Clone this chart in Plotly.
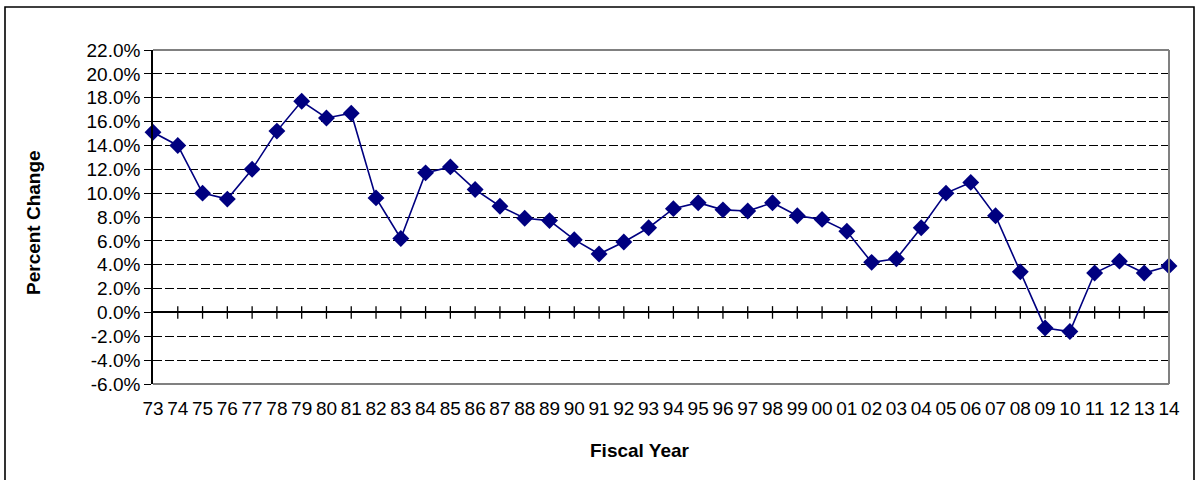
import plotly.graph_objects as go

# Fiscal years (two-digit labels) and annual percent change
years = ["73", "74", "75", "76", "77", "78", "79", "80", "81", "82", "83", "84",
         "85", "86", "87", "88", "89", "90", "91", "92", "93", "94", "95", "96",
         "97", "98", "99", "00", "01", "02", "03", "04", "05", "06", "07", "08",
         "09", "10", "11", "12", "13", "14"]
pct_change = [15.1, 14.0, 10.0, 9.5, 12.0, 15.2, 17.7, 16.3, 16.7, 9.6, 6.2, 11.7,
              12.2, 10.3, 8.9, 7.9, 7.7, 6.1, 4.9, 5.9, 7.1, 8.7, 9.2, 8.6,
              8.5, 9.2, 8.1, 7.8, 6.8, 4.2, 4.5, 7.1, 10.0, 10.9, 8.1, 3.4,
              -1.3, -1.6, 3.3, 4.3, 3.3, 3.9]
y_ticks = [-6, -4, -2, 0, 2, 4, 6, 8, 10, 12, 14, 16, 18, 20, 22]

FONT = "Liberation Sans, Arial, sans-serif"
NAVY = "#000080"
W, H = 1196, 480
L, R, T, B = 153, 27, 50, 96
pw, ph = W - L - R, H - T - B

idx = list(range(len(years)))

fig = go.Figure()

# crossing tick marks on the zero axis line
fig.add_trace(go.Scatter(
    x=idx[1:], y=[0] * (len(idx) - 1), mode="markers",
    marker=dict(symbol="line-ns", size=9, line=dict(color="black", width=1.3)),
    hoverinfo="skip", showlegend=False, cliponaxis=False,
))

fig.add_trace(go.Scatter(
    x=idx, y=pct_change, mode="lines+markers",
    line=dict(color=NAVY, width=1.6),
    marker=dict(symbol="diamond", size=13, color=NAVY),
    showlegend=False, cliponaxis=False,
))

fig.update_layout(
    width=W, height=H,
    margin=dict(l=L, r=R, t=T, b=B, pad=0),
    paper_bgcolor="white", plot_bgcolor="white",
    font=dict(family=FONT, size=19, color="black"),
    xaxis=dict(
        range=[0, len(years) - 1], tickmode="array", tickvals=idx, ticktext=years,
        showgrid=False, zeroline=False, showline=False, ticks="",
        ticklabelstandoff=11,
        tickfont=dict(size=19), fixedrange=True,
    ),
    yaxis=dict(
        range=[-6, 22], tickmode="array", tickvals=y_ticks,
        ticktext=[f"{v:.1f}%" for v in y_ticks],
        showgrid=True, gridcolor="black", gridwidth=1.3, griddash="9px,3px",
        zeroline=True, zerolinecolor="black", zerolinewidth=1.5,
        showline=True, linecolor="black", linewidth=1.6,
        ticks="outside", ticklen=7, tickcolor="black", tickwidth=1.3,
        tickfont=dict(size=19), fixedrange=True,
    ),
    shapes=[
        # plot-area frame (top, right, bottom)
        dict(type="line", xref="paper", yref="paper", x0=0, x1=1, y0=1, y1=1,
             line=dict(color="#808080", width=2)),
        dict(type="line", xref="paper", yref="paper", x0=1, x1=1, y0=0, y1=1,
             line=dict(color="#808080", width=2)),
        dict(type="line", xref="paper", yref="paper", x0=0, x1=1, y0=0, y1=0,
             line=dict(color="#808080", width=2)),
        # outer chart border
        dict(type="rect", xref="paper", yref="paper",
             x0=(5 - L) / pw, x1=(1194 - L) / pw,
             y0=(H - B - 500) / ph, y1=(H - B - 7) / ph,
             line=dict(color="black", width=1.6), layer="below"),
    ],
    annotations=[
        dict(text="<b>Percent Change</b>", xref="paper", yref="paper",
             x=0, y=0.5, xanchor="center", yanchor="middle", xshift=33 - L,
             yshift=-6, textangle=-90, showarrow=False, font=dict(size=19)),
        dict(text="<b>Fiscal Year</b>", xref="paper", yref="paper",
             x=(640 - L) / pw, y=0, xanchor="center", yanchor="middle",
             yshift=-(450 - (H - B)), showarrow=False, font=dict(size=19)),
    ],
)

fig.write_html("out.html")
